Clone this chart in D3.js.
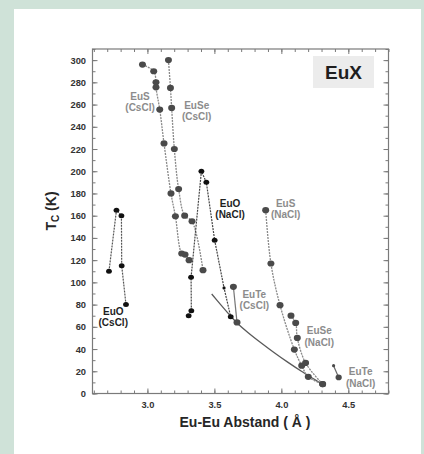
<!DOCTYPE html>
<html><head><meta charset="utf-8">
<script src="https://cdn.jsdelivr.net/npm/d3@7"></script>
<style>body{margin:0;background:#cfe2d8;} svg{display:block}</style>
</head><body><svg id="c" width="424" height="454"></svg>
<script>
// ---- data ----
const xTickValues = [3.0, 3.5, 4.0, 4.5];
const yTickValues = [0, 20, 40, 60, 80, 100, 120, 140, 160, 180, 200, 220, 240, 260, 280, 300];
const euoCsCl  = [[2.713,110],[2.769,165],[2.806,160],[2.808,115],[2.840,80]];
const eusCsCl  = [[2.963,296],[3.047,290],[3.064,280],[3.064,275.5],[3.092,255.5],[3.124,225],[3.176,180],[3.209,159.5],[3.256,126],[3.281,125],[3.311,120]];
const euseCsCl = [[3.157,300],[3.172,275],[3.181,257],[3.201,220],[3.233,184],[3.278,160],[3.333,155],[3.415,111]];
const euoNaCl  = [[3.308,70],[3.328,74.5],[3.326,104.5],[3.403,200],[3.440,190],[3.502,138],[3.572,95],[3.622,69]];
const euteCsCl = [[3.642,96],[3.669,64]];
const eusNaCl  = [[3.883,165],[3.922,117],[3.990,79.5],[4.097,39.5],[4.152,25],[4.201,15],[4.308,8.5]];
const euseNaCl = [[4.072,70],[4.107,63.5],[4.119,50],[4.181,27.5],[4.308,8.5]];
const euteNaCl = [[4.390,25],[4.428,14.5]];
const theory   = [[3.48,89.5],[3.55,79.5],[3.622,69.5],[3.669,63.5],[3.75,55],[3.85,45.5],[3.95,36.5],[4.05,28],[4.15,20],[4.25,12.5],[4.33,6.5]];
const labels = [
  {t:["EuS","(CsCl)"], x:2.945, y:264.5, dark:false},
  {t:["EuSe","(CsCl)"], x:3.368, y:256, dark:false},
  {t:["EuO","(NaCl)"], x:3.617, y:168, dark:true},
  {t:["EuS","(NaCl)"], x:4.032, y:168, dark:false},
  {t:["EuTe","(CsCl)"], x:3.798, y:86.3, dark:false},
  {t:["EuSe","(NaCl)"], x:4.283, y:53.2, dark:false},
  {t:["EuTe","(NaCl)"], x:4.592, y:16.4, dark:false},
  {t:["EuO","(CsCl)"], x:2.745, y:70.6, dark:true}
];

// ---- chart ----
const svg = d3.select("#c");
svg.append("rect").attr("x",14).attr("y",9).attr("width",407).attr("height",445).attr("fill","#ffffff");

const L=92.5, R=388.5, T=49, B=393.5;
const x = d3.scaleLinear().domain([2.59,4.8]).range([L,R]);
const y = d3.scaleLinear().domain([0,310]).range([B,T]);

const minorX = d3.range(2.6,4.81,0.1).map(v=>+v.toFixed(2));
const minorY = d3.range(0,311,10);
const axColor="#7a7a7a";

function styleAxis(g){
  g.select(".domain").remove();
  g.selectAll("line").attr("stroke",axColor);
}
// frame
svg.append("rect").attr("x",L).attr("y",T).attr("width",R-L).attr("height",B-T)
  .attr("fill","none").attr("stroke",axColor).attr("stroke-width",1.2);

// minor ticks
svg.append("g").attr("transform",`translate(0,${B})`).call(d3.axisBottom(x).tickValues(minorX).tickSize(-3).tickFormat("")).call(styleAxis);
svg.append("g").attr("transform",`translate(0,${T})`).call(d3.axisTop(x).tickValues(minorX).tickSize(-3).tickFormat("")).call(styleAxis);
svg.append("g").attr("transform",`translate(${L},0)`).call(d3.axisLeft(y).tickValues(minorY).tickSize(-3).tickFormat("")).call(styleAxis);
svg.append("g").attr("transform",`translate(${R},0)`).call(d3.axisRight(y).tickValues(minorY).tickSize(-3).tickFormat("")).call(styleAxis);

// major ticks with labels
const fmtX = d3.format(".1f");
const gx = svg.append("g").attr("transform",`translate(0,${B})`)
  .call(d3.axisBottom(x).tickValues(xTickValues).tickSize(-5).tickPadding(8).tickFormat(fmtX)).call(styleAxis);
const gy = svg.append("g").attr("transform",`translate(${L},0)`)
  .call(d3.axisLeft(y).tickValues(yTickValues).tickSize(-5).tickPadding(6.5)).call(styleAxis);
svg.append("g").attr("transform",`translate(0,${T})`).call(d3.axisTop(x).tickValues(xTickValues).tickSize(-5).tickFormat("")).call(styleAxis);
svg.append("g").attr("transform",`translate(${R},0)`).call(d3.axisRight(y).tickValues(yTickValues).tickSize(-5).tickFormat("")).call(styleAxis);
[gx,gy].forEach(g=>g.selectAll("text").attr("font-family","Liberation Sans, Arial, sans-serif")
  .attr("font-weight","bold").attr("font-size",9.3).attr("fill","#333"));

// EuX box
svg.append("rect").attr("x",313).attr("y",56).attr("width",61).attr("height",32).attr("fill","#ececec");
svg.append("text").attr("x",343.5).attr("y",79).attr("text-anchor","middle")
  .attr("font-family","Liberation Sans, Arial, sans-serif").attr("font-weight","bold").attr("font-size",19)
  .attr("fill","#1e1e1e").text("EuX");

// axis titles
svg.append("text").attr("x",245).attr("y",427).attr("text-anchor","middle")
  .attr("font-family","Liberation Sans, Arial, sans-serif").attr("font-weight","bold").attr("font-size",14)
  .attr("fill","#262626").text("Eu-Eu Abstand ( Å )");
const yt = svg.append("text").attr("transform","translate(56,211) rotate(-90)").attr("text-anchor","middle")
  .attr("font-family","Liberation Sans, Arial, sans-serif").attr("font-weight","bold").attr("font-size",14).attr("fill","#262626");
yt.append("tspan").text("T");
yt.append("tspan").attr("font-size",10).attr("dy",3).text("C");
yt.append("tspan").attr("dy",-3).text(" (K)");

// lines
const lineLin = d3.line().x(d=>x(d[0])).y(d=>y(d[1]));
const lineSm = d3.line().x(d=>x(d[0])).y(d=>y(d[1])).curve(d3.curveCatmullRom.alpha(0.5));
function drawLine(data, gen, color, dash, w){
  svg.append("path").datum(data).attr("d",gen).attr("fill","none").attr("stroke",color)
    .attr("stroke-width",w).attr("stroke-dasharray",dash);
}
drawLine(theory, lineSm, "#5a5a5a", null, 1.3);
drawLine(euoCsCl, lineLin, "#555", "2,1", 1.2);
drawLine(eusCsCl, lineSm, "#8a8a8a", "2,1", 1.3);
drawLine(euseCsCl, lineSm, "#8a8a8a", "2,1", 1.3);
drawLine(euoNaCl, lineLin, "#444", "2,1", 1.2);
drawLine(euteCsCl, lineLin, "#777", null, 1.2);
drawLine(eusNaCl, lineSm, "#8a8a8a", "2,1", 1.3);
drawLine(euseNaCl, lineSm, "#8a8a8a", "2,1", 1.3);
drawLine(euteNaCl, lineLin, "#666", null, 1.2);

// markers
function dots(data, fill, rx, ry, smallIdx){
  svg.append("g").selectAll("ellipse").data(data).join("ellipse")
    .attr("cx",d=>x(d[0])).attr("cy",d=>y(d[1]))
    .attr("rx",(d,i)=>smallIdx.includes(i)?1.6:rx).attr("ry",(d,i)=>smallIdx.includes(i)?1.6:ry)
    .attr("fill",fill);
}
dots(euoCsCl, "#111", 2.9, 2.5, []);
dots(eusCsCl, "#4a4a4a", 3.5, 3.1, []);
dots(euseCsCl, "#4a4a4a", 3.5, 3.1, []);
dots(euoNaCl, "#111", 2.9, 2.5, [6]);
dots(euteCsCl, "#4a4a4a", 3.5, 3.1, []);
dots(eusNaCl, "#4a4a4a", 3.5, 3.1, []);
dots(euseNaCl, "#4a4a4a", 3.5, 3.1, []);
dots(euteNaCl, "#4a4a4a", 3.1, 2.8, [0]);

// labels
labels.forEach(l=>{
  const t = svg.append("text").attr("text-anchor","middle")
    .attr("font-family","Liberation Sans, Arial, sans-serif").attr("font-weight","bold").attr("font-size",10)
    .attr("fill", l.dark ? "#1e1e1e" : "#8c8c8c");
  l.t.forEach((s,i)=>t.append("tspan").attr("x",x(l.x)).attr("y",y(l.y)+i*11.3).text(s));
});
</script></body></html>
